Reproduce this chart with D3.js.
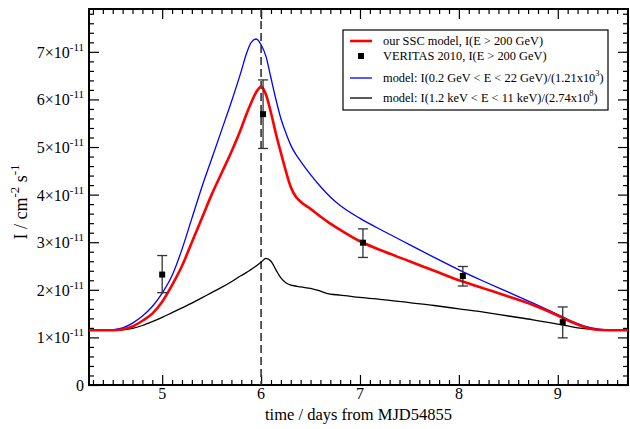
<!DOCTYPE html>
<html>
<head>
<meta charset="utf-8">
<script src="https://cdn.jsdelivr.net/npm/d3@7"></script>
<style>
body { margin: 0; background: #fff; }
text { font-family: "Liberation Serif", "DejaVu Serif", serif; fill: #000; }
</style>
</head>
<body>
<div id="chart"></div>
<script>
// fluxes in units of 1e-11 cm^-2 s^-1
var days = [4.26,4.4,4.5,4.6,4.7,4.8,4.9,
  5.0,5.1,5.2,5.3,5.4,5.5,5.6,5.7,5.8,
  5.85,5.9,5.95,6.0,6.05,6.1,6.15,6.2,6.25,6.3,6.35,6.4,
  6.5,6.6,6.7,6.8,
  7.0,7.25,7.5,7.75,8.0,8.25,8.5,8.75,9.0,
  9.1,9.2,9.3,9.4,9.5,9.6,9.71];
var sscFlux = [1.15,1.15,1.15,1.17,1.23,1.35,1.5,
  1.75,2.1,2.5,3.0,3.5,4.0,4.45,4.9,5.4,
  5.68,5.93,6.15,6.27,6.1,5.72,5.28,4.88,4.5,4.16,3.96,3.85,
  3.7,3.54,3.39,3.26,
  3.02,2.8,2.6,2.4,2.2,2.03,1.86,1.68,1.46,
  1.36,1.27,1.2,1.16,1.15,1.15,1.15];
var gevFlux = [1.15,1.15,1.16,1.2,1.3,1.45,1.65,
  1.93,2.3,2.85,3.5,4.15,4.75,5.35,5.95,6.6,
  6.95,7.2,7.27,7.15,6.9,6.45,6.0,5.6,5.3,5.04,4.85,4.7,
  4.42,4.17,3.95,3.77,
  3.5,3.22,2.95,2.68,2.42,2.18,1.95,1.72,1.48,
  1.38,1.29,1.22,1.18,1.16,1.15,1.15];
var kevFlux = [1.15,1.15,1.15,1.16,1.19,1.25,1.33,
  1.42,1.52,1.62,1.72,1.83,1.94,2.05,2.17,2.3,
  2.36,2.43,2.5,2.58,2.66,2.6,2.42,2.25,2.15,2.1,2.08,2.06,
  2.03,1.97,1.91,1.89,
  1.84,1.79,1.73,1.67,1.6,1.53,1.45,1.37,1.28,
  1.24,1.2,1.18,1.16,1.15,1.15,1.15];

var obsDays = [5.0, 6.02, 7.03, 8.04, 9.05];
var obsFlux = [2.32, 5.69, 2.99, 2.29, 1.32];
var obsLow  = [1.94, 4.97, 2.68, 2.08, 0.99];
var obsHigh = [2.72, 6.41, 3.28, 2.49, 1.64];

var xTicks = [5, 6, 7, 8, 9];
var yTicks = [0, 1, 2, 3, 4, 5, 6, 7];
var flareDay = 6.0;

var W = 630, H = 429;
var m = {left: 89, right: 2, top: 9, bottom: 44};

var svg = d3.select('#chart').append('svg')
    .attr('width', W).attr('height', H);

var x = d3.scaleLinear().domain([4.26, 9.71]).range([m.left, W - m.right]);
var y = d3.scaleLinear().domain([0, 7.9]).range([H - m.bottom, m.top]);

// minor ticks
var xMinor = d3.range(4.3, 9.71, 0.1).filter(function(d) { return Math.abs(d - Math.round(d)) > 0.01; });
var yMinor = d3.range(0.2, 7.9, 0.2).filter(function(d) { return Math.abs(d - Math.round(d)) > 0.01; });

function tickAxis(axisFn, scale, vals, len) {
  return axisFn(scale).tickValues(vals).tickSize(len).tickFormat('');
}

var gx = [
  ['bottom', d3.axisTop, H - m.bottom],
  ['top', d3.axisBottom, m.top]
];
gx.forEach(function(a) {
  svg.append('g').attr('transform', 'translate(0,' + a[2] + ')')
    .call(tickAxis(a[1], x, xMinor, 5));
  svg.append('g').attr('transform', 'translate(0,' + a[2] + ')')
    .call(tickAxis(a[1], x, xTicks, 10));
});
var gy = [
  [d3.axisRight, m.left],
  [d3.axisLeft, W - m.right]
];
gy.forEach(function(a) {
  svg.append('g').attr('transform', 'translate(' + a[1] + ',0)')
    .call(tickAxis(a[0], y, yMinor, 5));
  svg.append('g').attr('transform', 'translate(' + a[1] + ',0)')
    .call(tickAxis(a[0], y, yTicks, 10));
});
svg.selectAll('.domain').remove();
svg.selectAll('.tick line').attr('stroke', '#000').attr('stroke-width', 1.2);

// frame
svg.append('rect')
  .attr('x', m.left).attr('y', m.top)
  .attr('width', W - m.right - m.left).attr('height', H - m.bottom - m.top)
  .attr('fill', 'none').attr('stroke', '#000').attr('stroke-width', 2);

// tick labels
svg.selectAll('text.xl').data(xTicks).enter().append('text')
  .attr('class', 'xl')
  .attr('x', function(d) { return x(d); })
  .attr('y', H - m.bottom + 14)
  .attr('text-anchor', 'middle')
  .style('font-size', '16px')
  .text(function(d) { return d; });

var yl = svg.selectAll('text.yl').data(yTicks).enter().append('text')
  .attr('class', 'yl')
  .attr('x', m.left - 5)
  .attr('y', function(d) { return y(d) + 6; })
  .attr('text-anchor', 'end')
  .style('font-size', '16px');
yl.each(function(d) {
  var t = d3.select(this);
  if (d === 0) { t.text('0'); return; }
  t.append('tspan').text(d + '\u00d710');
  t.append('tspan').attr('dy', -7).style('font-size', '11px').text('-11');
});

// axis titles
svg.append('text')
  .attr('x', (m.left + W - m.right) / 2)
  .attr('y', H - 9)
  .attr('text-anchor', 'middle')
  .style('font-size', '16.5px')
  .text('time / days from MJD54855');

var yt = svg.append('text')
  .attr('transform', 'translate(27,' + 202 + ') rotate(-90)')
  .attr('text-anchor', 'middle')
  .style('font-size', '18px');
yt.append('tspan').text('I / cm');
yt.append('tspan').attr('dy', -8).style('font-size', '13px').text('-2');
yt.append('tspan').attr('dy', 8).text(' s');
yt.append('tspan').attr('dy', -8).style('font-size', '13px').text('-1');

// flare marker
svg.append('line')
  .attr('x1', x(flareDay)).attr('x2', x(flareDay))
  .attr('y1', m.top).attr('y2', H - m.bottom)
  .attr('stroke', '#333').attr('stroke-width', 1.6)
  .attr('stroke-dasharray', '8,4');

// model curves
var plot = svg.append('g');
function drawCurve(vals, color, width) {
  var line = d3.line()
    .x(function(d, i) { return x(days[i]); })
    .y(function(d) { return y(d); })
    .curve(d3.curveMonotoneX);
  plot.append('path')
    .attr('d', line(vals))
    .attr('fill', 'none')
    .attr('stroke', color)
    .attr('stroke-width', width);
}
drawCurve(kevFlux, '#000', 1.3);
drawCurve(gevFlux, '#0000ff', 1.3);
drawCurve(sscFlux, '#ff0000', 2.6);

// VERITAS points
var pts = plot.selectAll('g.obs').data(obsDays).enter().append('g').attr('class', 'obs');
pts.append('line')
  .attr('x1', function(d) { return x(d); }).attr('x2', function(d) { return x(d); })
  .attr('y1', function(d, i) { return y(obsLow[i]); })
  .attr('y2', function(d, i) { return y(obsHigh[i]); })
  .attr('stroke', '#333').attr('stroke-width', 1.3);
[obsLow, obsHigh].forEach(function(arr) {
  pts.append('line')
    .attr('x1', function(d) { return x(d) - 5; }).attr('x2', function(d) { return x(d) + 5; })
    .attr('y1', function(d, i) { return y(arr[i]); })
    .attr('y2', function(d, i) { return y(arr[i]); })
    .attr('stroke', '#333').attr('stroke-width', 1.3);
});
pts.append('rect')
  .attr('x', function(d) { return x(d) - 3; })
  .attr('y', function(d, i) { return y(obsFlux[i]) - 3; })
  .attr('width', 6).attr('height', 6)
  .attr('fill', '#000');

// legend
var lg = svg.append('g').attr('transform', 'translate(343,30)');
lg.append('rect').attr('width', 265).attr('height', 80)
  .attr('fill', '#fff').attr('stroke', '#000').attr('stroke-width', 1.2);
var legendRows = [
  {type: 'line', color: '#ff0000', w: 2.6, y: 11, parts: [['our SSC model, I(E > 200 GeV)']]},
  {type: 'sq', y: 26, parts: [['VERITAS 2010, I(E > 200 GeV)']]},
  {type: 'line', color: '#0000ff', w: 1.3, y: 48, parts: [['model: I(0.2 GeV < E < 22 GeV)/(1.21x10'], ['3', 'sup'], [')']]},
  {type: 'line', color: '#000', w: 1.3, y: 68, parts: [['model: I(1.2 keV < E < 11 keV)/(2.74x10'], ['8', 'sup'], [')']]}
];
legendRows.forEach(function(r) {
  if (r.type === 'line') {
    lg.append('line').attr('x1', 7).attr('x2', 29).attr('y1', r.y).attr('y2', r.y)
      .attr('stroke', r.color).attr('stroke-width', r.w);
  } else {
    lg.append('rect').attr('x', 15).attr('y', r.y - 3).attr('width', 6).attr('height', 6).attr('fill', '#000');
  }
  var t = lg.append('text').attr('x', 40).attr('y', r.y + 4).style('font-size', '12.4px');
  var lifted = false;
  r.parts.forEach(function(p) {
    var ts = t.append('tspan').text(p[0]);
    if (p[1] === 'sup') { ts.attr('dy', -6).style('font-size', '8.5px'); lifted = true; }
    else if (lifted) { ts.attr('dy', 6); lifted = false; }
  });
});
</script>
</body>
</html>
